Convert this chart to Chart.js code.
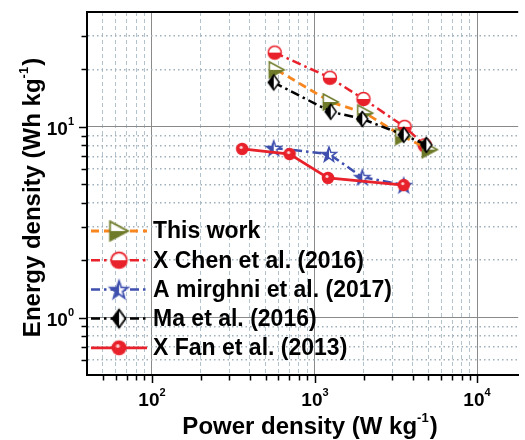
<!DOCTYPE html>
<html>
<head>
<meta charset="utf-8">
<script src="https://cdn.jsdelivr.net/npm/chart.js@4.4.0/dist/chart.umd.min.js"></script>
<style>
html, body { margin: 0; padding: 0; background: #fff; overflow: hidden; }
</style>
</head>
<body>
<canvas id="c" width="525" height="440"></canvas>
<script>
// Datos (W/kg, Wh/kg)
var seriesNames = ['This work', 'X Chen et al. (2016)', 'A mirghni et al. (2017)', 'Ma et al. (2016)', 'X Fan et al. (2013)'];

var powerThis = [585, 1256, 2046, 3500, 5100];
var energyThis = [19.9, 13.5, 11.8, 8.9, 7.6];

var powerChen = [569, 1242, 1995, 3570, 4750];
var energyChen = [24.5, 18.1, 14.0, 10.0, 8.0];

var powerMirghni = [561, 1225, 1963, 3525];
var energyMirghni = [7.75, 7.2, 5.45, 4.95];

var powerMa = [561, 1256, 1963, 3525, 4855];
var energyMa = [17.1, 12.0, 11.0, 9.08, 8.04];

var powerFan = [359, 702, 1208, 3525];
var energyFan = [7.66, 7.2, 5.4, 4.95];

var xTicks = [50, 60, 70, 80, 90, 100, 200, 300, 400, 500, 600, 700, 800, 900,
    1000, 2000, 3000, 4000, 5000, 6000, 7000, 8000, 9000, 10000];
var yTicks = [0.6, 0.7, 0.8, 0.9, 1, 2, 3, 4, 5, 6, 7, 8, 9, 10, 20, 30];

var xTitle = ['Power density (W kg', '-1', ')'];
var yTitle = ['Energy density (Wh kg', '-1', ')'];

var FONT = '"Liberation Sans", Arial, sans-serif';
var RED = '#e8212a', BLUE = '#3e4fae', OLIVE = '#6f7b2a', ORANGE = '#f7861e';

function points(xs, ys) {
    return xs.map(function (x, i) { return { x: x, y: ys[i] }; });
}

function isDecade(v) {
    var e = Math.log10(v);
    return Math.abs(e - Math.round(e)) < 1e-9;
}

// Marcadores medio rellenos
function makeMarker(kind) {
    var s = 22, c = document.createElement('canvas');
    c.width = s; c.height = s;
    var g = c.getContext('2d');
    g.translate(s / 2, s / 2);
    var color, half;
    g.beginPath();
    if (kind === 'tri') {
        g.moveTo(-7.5, -8); g.lineTo(7.5, 0); g.lineTo(-7.5, 8); g.closePath();
        color = OLIVE; half = 'bottom';
    } else if (kind === 'halfcircle') {
        g.arc(0, 0, 6.5, 0, Math.PI * 2);
        color = RED; half = 'bottom';
    } else if (kind === 'star') {
        for (var k = 0; k < 10; k++) {
            var r = k % 2 ? 3.2 : 7.8;
            var a = -Math.PI / 2 + k * Math.PI / 5;
            g.lineTo(r * Math.cos(a), r * Math.sin(a) + 0.8);
        }
        g.closePath();
        color = BLUE; half = 'left';
    } else if (kind === 'diamond') {
        g.moveTo(0, -7.5); g.lineTo(5.5, 0); g.lineTo(0, 7.5); g.lineTo(-5.5, 0); g.closePath();
        color = '#000'; half = 'left';
    } else {
        g.arc(0, 0, 5.5, 0, Math.PI * 2);
        color = RED; half = 'full';
    }
    g.fillStyle = '#fff';
    g.fill();
    g.save();
    g.clip();
    g.fillStyle = color;
    if (half === 'bottom') g.fillRect(-11, 0, 22, 11);
    else if (half === 'left') g.fillRect(-11, -11, 11, 22);
    else g.fillRect(-11, -11, 22, 22);
    g.restore();
    g.lineWidth = 1.5;
    g.strokeStyle = color;
    g.stroke();
    if (half === 'full') {
        g.beginPath();
        g.arc(-1, -1.5, 1.6, 0, Math.PI * 2);
        g.fillStyle = '#ffd6d6';
        g.fill();
    }
    return c;
}

// texto con exponente: devuelve ancho total, o dibuja si draw=true
function supText(ctx, parts, x, y, big, small, rise, draw) {
    var w = 0;
    parts.forEach(function (p, i) {
        ctx.font = 'bold ' + (i === 1 ? small : big) + 'px ' + FONT;
        if (draw) ctx.fillText(p, x + w, i === 1 ? y - rise : y);
        w += ctx.measureText(p).width + (i === 1 ? 1 : 0);
    });
    return w;
}

var framePlugin = {
    id: 'frame',
    afterDraw: function (chart) {
        var ctx = chart.ctx, area = chart.chartArea;
        var xs = chart.scales.x, ys = chart.scales.y;
        ctx.save();
        // borde superior
        ctx.strokeStyle = '#000';
        ctx.lineWidth = 2;
        ctx.beginPath();
        ctx.moveTo(area.left - 1, area.top);
        ctx.lineTo(area.right, area.top);
        ctx.stroke();
        // marcas y etiquetas de los ejes
        ctx.lineWidth = 1.5;
        ctx.fillStyle = '#000';
        ctx.textAlign = 'left';
        ctx.textBaseline = 'alphabetic';
        xs.ticks.forEach(function (t) {
            var px = Math.round(xs.getPixelForValue(t.value)) + 0.5;
            var major = isDecade(t.value);
            ctx.beginPath();
            ctx.moveTo(px, area.bottom);
            ctx.lineTo(px, area.bottom + 1 + (major ? 7 : 4.5));
            ctx.stroke();
            if (major) {
                var parts = ['10', String(Math.round(Math.log10(t.value)))];
                var w = supText(ctx, parts, 0, 0, 19, 11, 10, false);
                supText(ctx, parts, px - w / 2, area.bottom + 31, 19, 11, 10, true);
            }
        });
        ys.ticks.forEach(function (t) {
            var py = Math.round(ys.getPixelForValue(t.value)) + 0.5;
            var major = isDecade(t.value);
            ctx.beginPath();
            ctx.moveTo(area.left, py);
            ctx.lineTo(area.left - 1 - (major ? 7 : 4.5), py);
            ctx.stroke();
            if (major) {
                var parts = ['10', String(Math.round(Math.log10(t.value)))];
                var w = supText(ctx, parts, 0, 0, 19, 11, 10, false);
                supText(ctx, parts, 75 - w, py + 7, 19, 11, 10, true);
            }
        });
        // titulos de los ejes
        var wx = supText(ctx, xTitle, 0, 0, 24, 13, 12, false);
        supText(ctx, xTitle, 310 - wx / 2, 434, 24, 13, 12, true);
        ctx.save();
        ctx.translate(40, (area.top + area.bottom) / 2 + 4);
        ctx.rotate(-Math.PI / 2);
        var wy = supText(ctx, yTitle, 0, 0, 24, 13, 12, false);
        supText(ctx, yTitle, -wy / 2, 0, 24, 13, 12, true);
        ctx.restore();
        // leyenda
        chart.data.datasets.forEach(function (ds, i) {
            var y = 231 + i * 29.2;
            ctx.save();
            ctx.strokeStyle = ds.borderColor;
            ctx.lineWidth = ds.borderWidth;
            ctx.setLineDash(ds.borderDash || []);
            ctx.beginPath();
            ctx.moveTo(91, y);
            ctx.lineTo(147, y);
            ctx.stroke();
            ctx.restore();
            var m = ds.pointStyle, mw = m.width * 1.2, mh = m.height * 1.2;
            ctx.drawImage(m, 119 - mw / 2, y - mh / 2, mw, mh);
            ctx.font = 'bold 23px ' + FONT;
            ctx.textBaseline = 'middle';
            ctx.fillText(ds.label, 153, y + 1);
            ctx.textBaseline = 'alphabetic';
        });
        ctx.restore();
    }
};

function gridColor(c) {
    if (!c.tick) return '#888';
    return isDecade(c.tick.value) ? '#8a8a8a' : '#9fb0bb';
}

var datasets = [
    { label: seriesNames[0], data: points(powerThis, energyThis), borderColor: ORANGE, borderWidth: 2.8,
      borderDash: [8, 5], pointStyle: makeMarker('tri'), order: 2 },
    { label: seriesNames[1], data: points(powerChen, energyChen), borderColor: RED, borderWidth: 2.5,
      borderDash: [9, 4, 2.5, 4], pointStyle: makeMarker('halfcircle'), order: 3 },
    { label: seriesNames[2], data: points(powerMirghni, energyMirghni), borderColor: BLUE, borderWidth: 2.5,
      borderDash: [9, 4, 2.5, 4], pointStyle: makeMarker('star'), order: 4 },
    { label: seriesNames[3], data: points(powerMa, energyMa), borderColor: '#000', borderWidth: 2.5,
      borderDash: [9, 4, 2.5, 4], pointStyle: makeMarker('diamond'), order: 1 },
    { label: seriesNames[4], data: points(powerFan, energyFan), borderColor: RED, borderWidth: 2.8,
      borderDash: [], pointStyle: makeMarker('dot'), order: 1 }
];
datasets.forEach(function (d) {
    d.showLine = true;
    d.fill = false;
    d.tension = 0;
    d.backgroundColor = d.borderColor;
});

new Chart(document.getElementById('c'), {
    type: 'scatter',
    data: { datasets: datasets },
    options: {
        responsive: false,
        animation: false,
        layout: { padding: { top: 12, right: 0, left: 0, bottom: 0 } },
        plugins: { legend: { display: false }, tooltip: { enabled: false } },
        scales: {
            x: {
                type: 'logarithmic',
                min: 40,
                max: 17800,
                afterBuildTicks: function (s) { s.ticks = xTicks.map(function (v) { return { value: v }; }); },
                afterFit: function (s) { s.height = 65; },
                ticks: { display: false, autoSkip: false },
                grid: { drawTicks: false, lineWidth: 1,
                        color: function (c) { return c.tick && !isDecade(c.tick.value) ? '#b3c3cd' : '#8a8a8a'; } },
                border: { color: '#000', width: 2,
                          dash: function (c) { return c.tick && !isDecade(c.tick.value) ? [4, 3] : []; } }
            },
            y: {
                type: 'logarithmic',
                min: 0.5,
                max: 40,
                afterBuildTicks: function (s) { s.ticks = yTicks.map(function (v) { return { value: v }; }); },
                afterFit: function (s) { s.width = 87; },
                ticks: { display: false, autoSkip: false },
                grid: { drawTicks: false, color: gridColor,
                        lineWidth: function (c) { return c.tick && !isDecade(c.tick.value) ? 1.5 : 1; } },
                border: { color: '#000', width: 2,
                          dash: function (c) { return c.tick && !isDecade(c.tick.value) ? [1.5, 3] : []; } }
            }
        }
    },
    plugins: [framePlugin]
});
</script>
</body>
</html>
